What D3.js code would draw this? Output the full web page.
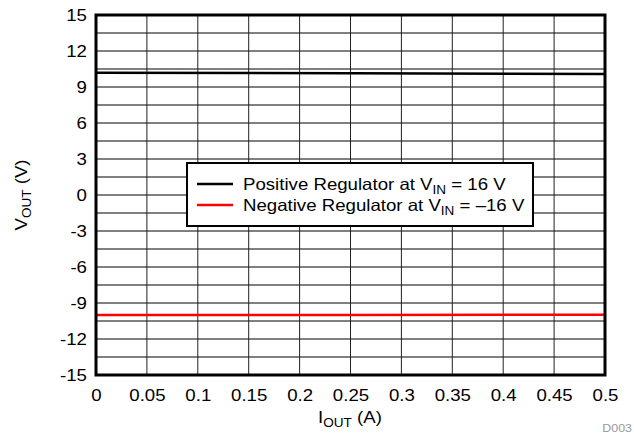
<!DOCTYPE html>
<html>
<head>
<meta charset="utf-8">
<script src="https://cdn.jsdelivr.net/npm/d3@7"></script>
<style>
  body { margin: 0; background: #fff; }
  svg text { font-family: "Liberation Sans", Arial, sans-serif; fill: #000; }
</style>
</head>
<body>
<svg id="chart"></svg>
<script>
// values
const iOut = [0, 0.25, 0.5];
const vPositive = [10.19, 10.14, 10.08];
const vNegative = [-10.0, -9.99, -9.97];
const xTicks = [0, 0.05, 0.1, 0.15, 0.2, 0.25, 0.3, 0.35, 0.4, 0.45, 0.5];
const yTicks = [-15, -12, -9, -6, -3, 0, 3, 6, 9, 12, 15];
const yGrid = d3.range(-15, 15.01, 1.5);
const seriesNames = ["Positive Regulator at V", "Negative Regulator at V"];
const seriesTails = [" = 16 V", " = \u201316 V"];
const seriesColors = ["#000000", "#ff0000"];

const width = 634, height = 439;
const m = { left: 96, right: 605, top: 15, bottom: 375 };
const sx = 1.13; // text in the reference is a bit wider than plain Arial

const svg = d3.select("#chart").attr("width", width).attr("height", height);

const x = d3.scaleLinear().domain([0, 0.5]).range([m.left, m.right]);
const y = d3.scaleLinear().domain([-15, 15]).range([m.bottom, m.top]);

// grid
svg.append("g").selectAll("line")
  .data(yGrid)
  .enter().append("line")
  .attr("x1", m.left).attr("x2", m.right)
  .attr("y1", d => y(d)).attr("y2", d => y(d))
  .attr("stroke", "#000").attr("stroke-width", 1);

svg.append("g").selectAll("line")
  .data(xTicks)
  .enter().append("line")
  .attr("x1", d => x(d)).attr("x2", d => x(d))
  .attr("y1", m.top).attr("y2", m.bottom)
  .attr("stroke", "#222").attr("stroke-width", 1);

// axes (labels only, frame drawn separately)
const xAxis = svg.append("g")
  .attr("transform", `translate(0,${m.bottom})`)
  .call(d3.axisBottom(x).tickValues(xTicks).tickSize(0).tickPadding(14).tickFormat(d3.format("")));
const yAxis = svg.append("g")
  .attr("transform", `translate(${m.left},0)`)
  .call(d3.axisLeft(y).tickValues(yTicks).tickSize(0).tickPadding(8).tickFormat(d => d));

[xAxis, yAxis].forEach(a => {
  a.select(".domain").remove();
  a.selectAll("text")
    .style("font-size", "16.5px")
    .attr("fill", "#000")
    .attr("transform", `scale(${sx},1)`);
});
yAxis.selectAll("text").attr("dy", "0.36em");

// series
const line = d3.line().x(d => x(d[0])).y(d => y(d[1]));
[vPositive, vNegative].forEach((vals, i) => {
  svg.append("path")
    .datum(iOut.map((d, j) => [d, vals[j]]))
    .attr("d", line)
    .attr("fill", "none")
    .attr("stroke", seriesColors[i])
    .attr("stroke-width", 2.5);
});

// frame
svg.append("rect")
  .attr("x", m.left).attr("y", m.top)
  .attr("width", m.right - m.left).attr("height", m.bottom - m.top)
  .attr("fill", "none").attr("stroke", "#000").attr("stroke-width", 3);

// legend
const legend = svg.append("g");
legend.append("rect")
  .attr("x", 187).attr("y", 163).attr("width", 346).attr("height", 63)
  .attr("fill", "#fff").attr("stroke", "#000").attr("stroke-width", 2);

seriesNames.forEach((name, i) => {
  const ly = 184 + i * 21;
  legend.append("line")
    .attr("x1", 197).attr("x2", 233).attr("y1", ly).attr("y2", ly)
    .attr("stroke", seriesColors[i]).attr("stroke-width", 2.5);
  const t = legend.append("text")
    .attr("transform", `translate(243,${ly + 6}) scale(${sx},1)`)
    .style("font-size", "16.5px");
  t.append("tspan").text(name);
  t.append("tspan").attr("dy", 4).style("font-size", "12px").text("IN");
  t.append("tspan").attr("dy", -4).text(seriesTails[i]);
});

// axis titles
const xt = svg.append("text")
  .attr("transform", `translate(350,423) scale(${sx},1)`)
  .attr("text-anchor", "middle")
  .style("font-size", "16.5px");
xt.append("tspan").text("I");
xt.append("tspan").attr("dy", 4).style("font-size", "12px").text("OUT");
xt.append("tspan").attr("dy", -4).text(" (A)");

const yt = svg.append("text")
  .attr("transform", `translate(27,195) rotate(-90) scale(${sx},1)`)
  .attr("text-anchor", "middle")
  .style("font-size", "16.5px");
yt.append("tspan").text("V");
yt.append("tspan").attr("dy", 4).style("font-size", "12px").text("OUT");
yt.append("tspan").attr("dy", -4).text(" (V)");

svg.append("text")
  .attr("transform", `translate(632,432) scale(${sx},1)`)
  .attr("text-anchor", "end")
  .style("font-size", "11px")
  .style("fill", "#999")
  .text("D003");
</script>
</body>
</html>
